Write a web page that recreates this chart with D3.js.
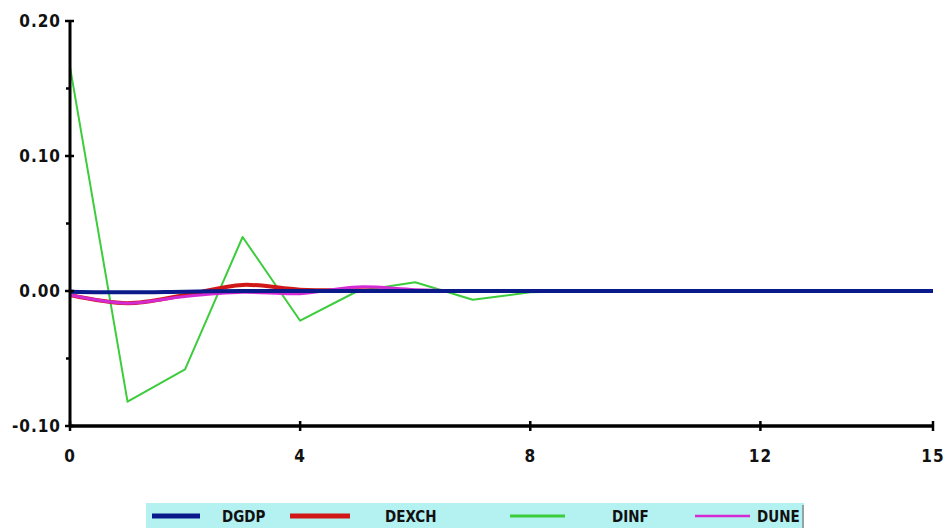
<!DOCTYPE html>
<html>
<head>
<meta charset="utf-8">
<script src="https://cdn.jsdelivr.net/npm/d3@7"></script>
<style>
  html, body { margin: 0; padding: 0; background: #fff; }
  svg { display: block; }
  .tick-label { font-family: "DejaVu Sans Condensed", "DejaVu Sans", sans-serif; font-weight: bold; font-size: 17px; fill: #111; letter-spacing: 1px; }
  .legend-label { font-family: "DejaVu Sans Condensed", "DejaVu Sans", sans-serif; font-weight: bold; font-size: 15px; fill: #111; }
</style>
</head>
<body>
<script>
// periods 0..15
const periods = d3.range(0, 16);

const dgdp  = [-0.0005, -0.001, -0.0005, 0, 0, 0, 0, 0, 0, 0, 0, 0, 0, 0, 0, 0];
const dexch = [-0.003, -0.009, -0.003, 0.0045, 0.001, 0.0005, 0, 0, 0, 0, 0, 0, 0, 0, 0, 0];
const dinf  = [0.166, -0.082, -0.058, 0.040, -0.022, 0.000, 0.0065, -0.0065, -0.001, 0, 0, 0, 0, 0, 0, 0];
const dune  = [-0.003, -0.009, -0.004, -0.001, -0.002, 0.003, 0.001, 0, 0, 0, 0, 0, 0, 0, 0, 0];

const yTicks = [-0.10, 0.00, 0.10, 0.20];
const yMinorTicks = [-0.05, 0.05, 0.15];
const xTicks = [0, 4, 8, 12, 15];

const series = [
  { name: 'DINF',  values: dinf,  color: '#3ccc3c', width: 2, legendWidth: 3,   curve: d3.curveLinear },
  { name: 'DEXCH', values: dexch, color: '#d01818', width: 4, legendWidth: 5,   curve: d3.curveCatmullRom },
  { name: 'DUNE',  values: dune,  color: '#d42ad4', width: 3, legendWidth: 2.5, curve: d3.curveCatmullRom },
  { name: 'DGDP',  values: dgdp,  color: '#0a1a8a', width: 4, legendWidth: 5,   curve: d3.curveCatmullRom }
];
const legendOrder = ['DGDP', 'DEXCH', 'DINF', 'DUNE'];

const width = 946, height = 528;
const svg = d3.select('body').append('svg').attr('width', width).attr('height', height);

const x = d3.scaleLinear().domain([0, 15]).range([70, 933]);
const y = d3.scaleLinear().domain([-0.1, 0.2]).range([426, 21]);

// series lines
series.forEach(s => {
  const line = d3.line().x((d, i) => x(periods[i])).y(d => y(d)).curve(s.curve);
  svg.append('path')
    .attr('d', line(s.values))
    .attr('fill', 'none')
    .attr('stroke', s.color)
    .attr('stroke-width', s.width)
    .attr('stroke-linejoin', 'round');
});

// y axis
svg.append('line').attr('x1', x(0)).attr('x2', x(0)).attr('y1', y(0.2)).attr('y2', y(-0.1))
  .attr('stroke', '#000').attr('stroke-width', 3);
yTicks.forEach(t => {
  svg.append('line').attr('x1', x(0) - 5).attr('x2', x(0) + 4).attr('y1', y(t)).attr('y2', y(t))
    .attr('stroke', '#000').attr('stroke-width', 2.5);
  svg.append('text').attr('class', 'tick-label')
    .attr('x', 61).attr('y', y(t)).attr('dy', '0.35em').attr('text-anchor', 'end')
    .text(t.toFixed(2));
});
yMinorTicks.forEach(t => {
  svg.append('line').attr('x1', x(0) - 4).attr('x2', x(0)).attr('y1', y(t)).attr('y2', y(t))
    .attr('stroke', '#000').attr('stroke-width', 2.5);
});

// x axis
svg.append('line').attr('x1', x(0)).attr('x2', x(15)).attr('y1', y(-0.1)).attr('y2', y(-0.1))
  .attr('stroke', '#000').attr('stroke-width', 3.5);
xTicks.forEach(t => {
  svg.append('line').attr('x1', x(t)).attr('x2', x(t)).attr('y1', y(-0.1) - 5).attr('y2', y(-0.1) + 5)
    .attr('stroke', '#000').attr('stroke-width', 2.5);
  svg.append('text').attr('class', 'tick-label')
    .attr('x', x(t)).attr('y', 456).attr('dy', '0.35em').attr('text-anchor', 'middle')
    .text(t);
});

// legend
const legend = svg.append('g');
legend.append('rect').attr('x', 146).attr('y', 503).attr('width', 658).attr('height', 30)
  .attr('fill', '#b4f2f2');
legend.append('line').attr('x1', 803).attr('x2', 803).attr('y1', 505).attr('y2', 528)
  .attr('stroke', '#888').attr('stroke-width', 1.5);
const legendLineX = [[152, 200], [290, 350], [510, 565], [695, 750]];
const legendTextX = [222, 385, 612, 757];
legendOrder.forEach((name, i) => {
  const s = series.find(d => d.name === name);
  legend.append('line').attr('x1', legendLineX[i][0]).attr('x2', legendLineX[i][1])
    .attr('y1', 516).attr('y2', 516)
    .attr('stroke', s.color).attr('stroke-width', s.legendWidth);
  legend.append('text').attr('class', 'legend-label')
    .attr('x', legendTextX[i])
    .attr('y', 517).attr('dy', '0.35em')
    .text(name);
});
</script>
</body>
</html>
